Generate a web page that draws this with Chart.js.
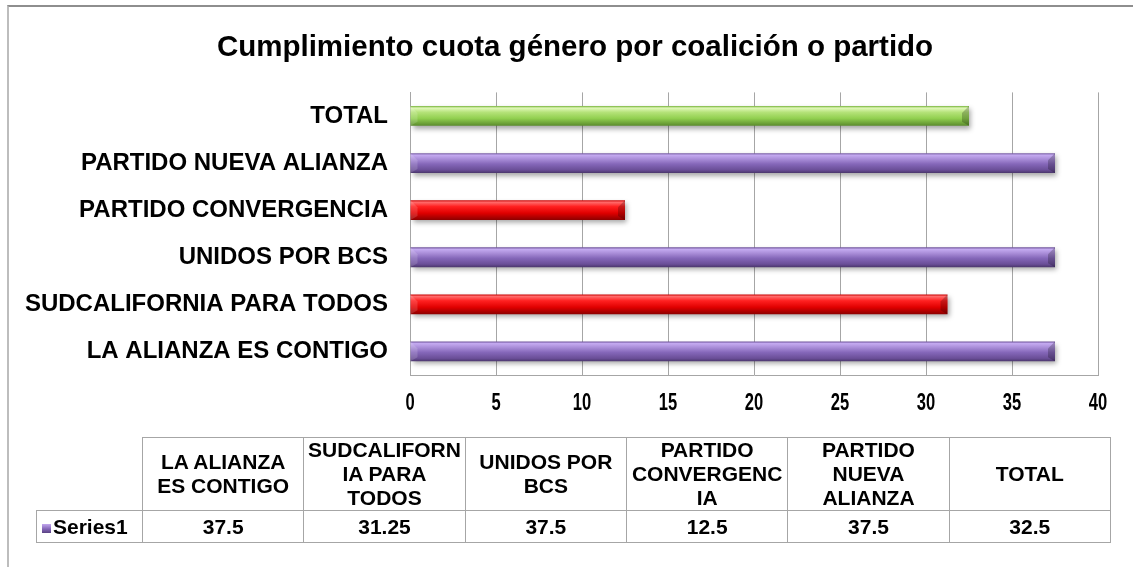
<!DOCTYPE html>
<html>
<head>
<meta charset="utf-8">
<title>Cumplimiento cuota género por coalición o partido</title>
<script src="https://cdn.jsdelivr.net/npm/chart.js@4"></script>
<style>
  html, body { margin: 0; padding: 0; background: #fff; }
  #wrap { position: relative; width: 1133px; height: 567px; overflow: hidden; }
  #frame {
    position: absolute; left: 7px; top: 5px; width: 1200px; height: 600px;
    border-top: 2px solid #8e8e8e; border-left: 2px solid #bdbdbd;
  }
  #chart { position: absolute; left: 0; top: 0; }
  #dataTable {
    position: absolute; left: 36px; top: 437px;
    border-collapse: collapse; table-layout: fixed;
    font: bold 21px 'Liberation Sans', Arial, sans-serif; color: #000;
  }
  #dataTable td { border: 1px solid #a6a6a6; text-align: center; padding: 0; }
  #dataTable tr.head td { height: 72px; line-height: 24px; vertical-align: middle; }
  #dataTable tr.vals td { height: 31px; line-height: 31px; }
  #dataTable td.corner { border: none; border-right: 1px solid #a6a6a6; border-bottom: 1px solid #a6a6a6; }
  #dataTable td.series { text-align: left; white-space: nowrap; padding-left: 5px; }
  .key {
    display: inline-block; width: 9px; height: 9px; margin-right: 2px; vertical-align: 1px;
    background: linear-gradient(#c2a8ee, #8466b8 55%, #5a4283);
  }
</style>
</head>
<body>
<div id="wrap">
  <div id="frame"></div>
  <canvas id="chart" width="1133" height="567"></canvas>
  <table id="dataTable"></table>
</div>
<script>
// ── Data ─────────────────────────────────────────────────────────────────────
const chartTitle = 'Cumplimiento cuota género por coalición o partido';
const categories = [
  'LA ALIANZA ES CONTIGO',
  'SUDCALIFORNIA PARA TODOS',
  'UNIDOS POR BCS',
  'PARTIDO CONVERGENCIA',
  'PARTIDO NUEVA ALIANZA',
  'TOTAL',
];
// header text of the data table, wrapped the way the original wraps it
const tableHeaders = [
  ['LA ALIANZA', 'ES CONTIGO'],
  ['SUDCALIFORN', 'IA PARA', 'TODOS'],
  ['UNIDOS POR', 'BCS'],
  ['PARTIDO', 'CONVERGENC', 'IA'],
  ['PARTIDO', 'NUEVA', 'ALIANZA'],
  ['TOTAL'],
];
const seriesName = 'Series1';
const values     = [37.5, 31.25, 37.5, 12.5, 37.5, 32.5];
const barTones   = ['purple', 'red', 'purple', 'red', 'purple', 'green'];
const xMin = 0, xMax = 40, xStep = 5;

// ── Bar look ─────────────────────────────────────────────────────────────────
const TONES = {
  purple: [[0, '#6f549c'], [0.1, '#c4aaf0'], [0.3, '#a98dd8'], [0.55, '#8567b9'], [0.85, '#6a4e97'], [1, '#4b366c']],
  red:    [[0, '#c80000'], [0.1, '#ff6a6a'], [0.32, '#ff2020'], [0.65, '#e00000'], [1, '#8c0000']],
  green:  [[0, '#78b43c'], [0.1, '#e0f8b8'], [0.32, '#b4e278'], [0.62, '#92d050'], [1, '#5a8a2c']],
};

const bevelPlugin = {
  id: 'bevel',
  beforeDatasetsDraw(chart) {
    const ctx = chart.ctx;
    chart.getDatasetMeta(0).data.forEach((el, i) => {
      const top = el.y - el.height / 2, bottom = el.y + el.height / 2;
      const g = ctx.createLinearGradient(0, top, 0, bottom);
      TONES[barTones[i]].forEach(([s, c]) => g.addColorStop(s, c));
      el.options = Object.assign({}, el.options, { backgroundColor: g });
    });
    ctx.save();
    ctx.shadowColor = 'rgba(0,0,0,0.35)';
    ctx.shadowBlur = 5;
    ctx.shadowOffsetX = 2;
    ctx.shadowOffsetY = 3;
  },
  afterDatasetsDraw(chart) {
    const ctx = chart.ctx;
    ctx.restore();
    chart.getDatasetMeta(0).data.forEach(el => {
      const top = el.y - el.height / 2, bottom = el.y + el.height / 2;
      const left = el.base, right = el.x, b = 7;
      // dark right cap
      ctx.fillStyle = 'rgba(0,0,0,0.22)';
      ctx.beginPath();
      ctx.moveTo(right, top); ctx.lineTo(right, bottom);
      ctx.lineTo(right - b, bottom - 4); ctx.lineTo(right - b, top + b);
      ctx.closePath(); ctx.fill();
      // light left cap
      ctx.fillStyle = 'rgba(255,255,255,0.15)';
      ctx.beginPath();
      ctx.moveTo(left, top); ctx.lineTo(left + b, top + b);
      ctx.lineTo(left + b, bottom - 4); ctx.lineTo(left, bottom);
      ctx.closePath(); ctx.fill();
    });
  },
};

// x tick numbers are condensed in the original (Arial Narrow look)
const narrowTicksPlugin = {
  id: 'narrowTicks',
  afterLayout(chart) {
    // title is centred a bit right of the canvas middle in the original
    if (chart.titleBlock) chart.titleBlock.left = 52;
  },
  afterDraw(chart) {
    const ctx = chart.ctx, sx = chart.scales.x;
    ctx.save();
    ctx.fillStyle = '#000';
    ctx.font = "bold 23px 'Liberation Sans', Arial, sans-serif";
    ctx.textAlign = 'center';
    ctx.textBaseline = 'middle';
    sx.ticks.forEach((t, i) => {
      ctx.save();
      ctx.translate(sx.getPixelForTick(i), chart.chartArea.bottom + 29);
      ctx.scale(0.72, 1);
      ctx.fillText(String(t.value), 0, 0);
      ctx.restore();
    });
    ctx.restore();
  },
};

// ── Chart ────────────────────────────────────────────────────────────────────
new Chart(document.getElementById('chart'), {
  type: 'bar',
  data: {
    labels: categories,
    datasets: [{
      label: seriesName,
      data: values,
      backgroundColor: '#8567b9',
      borderWidth: 0,
      categoryPercentage: 1,
      barPercentage: 0.42,
    }],
  },
  options: {
    indexAxis: 'y',
    responsive: false,
    animation: false,
    layout: { padding: { left: 0, right: 35, top: 0, bottom: 0 } },
    plugins: {
      legend: { display: false },
      tooltip: { enabled: false },
      title: {
        display: true,
        text: chartTitle,
        color: '#000',
        font: { family: "'Liberation Sans', Arial, sans-serif", size: 29.5, weight: 'bold' },
        padding: { top: 30, bottom: 27 },
      },
    },
    scales: {
      x: {
        min: xMin, max: xMax,
        ticks: { stepSize: xStep, display: false },
        grid: { color: '#a6a6a6', drawTicks: false },
        border: { display: true, color: '#a6a6a6' },
        afterFit: s => { s.height = 567 - 375; },
      },
      y: {
        reverse: true,
        ticks: {
          color: '#000',
          padding: 22,
          font: { family: "'Liberation Sans', Arial, sans-serif", size: 24, weight: 'bold' },
        },
        grid: { display: false, drawTicks: false },
        border: { display: true, color: '#a6a6a6' },
        afterFit: s => { s.width = 410; },
      },
    },
  },
  plugins: [bevelPlugin, narrowTicksPlugin],
});

// ── Data table under the chart ───────────────────────────────────────────────
(function buildTable() {
  const table = document.getElementById('dataTable');
  const colW = (1110 - 142) / categories.length;
  let html = '<colgroup><col style="width:106px">' +
    categories.map(() => `<col style="width:${colW}px">`).join('') + '</colgroup>';
  html += '<tr class="head"><td class="corner"></td>' +
    tableHeaders.map(lines => `<td>${lines.join('<br>')}</td>`).join('') + '</tr>';
  html += `<tr class="vals"><td class="series"><span class="key"></span>${seriesName}</td>` +
    values.map(v => `<td>${v}</td>`).join('') + '</tr>';
  table.innerHTML = html;
})();
</script>
</body>
</html>
